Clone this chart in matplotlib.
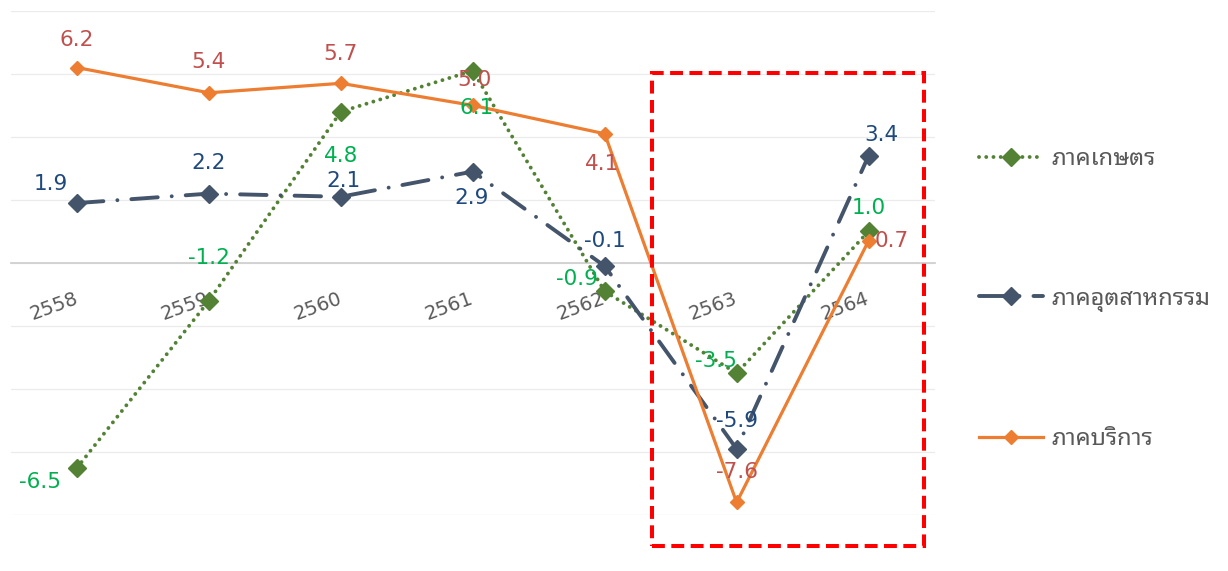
import matplotlib
matplotlib.use('Agg')
import matplotlib.pyplot as plt
from matplotlib.patches import Rectangle

# ข้อมูล (อัตราการขยายตัว %)
years = ['2558', '2559', '2560', '2561', '2562', '2563', '2564']
agri = [-6.5, -1.2, 4.8, 6.1, -0.9, -3.5, 1.0]
industry = [1.9, 2.2, 2.1, 2.9, -0.1, -5.9, 3.4]
services = [6.2, 5.4, 5.7, 5.0, 4.1, -7.6, 0.7]
names = ['ภาคเกษตร', 'ภาคอุตสาหกรรม', 'ภาคบริการ']

# ตำแหน่งป้ายตัวเลข (offset หน่วย points)
agri_off = [(-27, -10), (0, 31), (0, -32), (3, -27), (-20, 9), (-15, 9), (0, 17)]
ind_off = [(-19, 14), (0, 22), (2, 11), (-1, -19), (0, 18), (0, 20), (9, 15)]
serv_off = [(0, 20), (0, 22), (0, 21), (1, 18), (-2, -22), (0, 22), (17, 0)]

thai_font = ['Noto Sans Thai Looped', 'Noto Sans Thai', 'Sarabun', 'DejaVu Sans']

fig = plt.figure(figsize=(12.28, 5.71), dpi=100)
ax = fig.add_axes([0.009, 0.098, 0.752, 0.883])
x = list(range(len(years)))

l1, = ax.plot(x, agri, color='#548235', lw=2.8, linestyle=(0, (0.01, 1.85)),
              dash_capstyle='round', marker='D', ms=9.5, mec='#548235',
              mfc='#548235', zorder=3)
l2, = ax.plot(x, industry, color='#44546A', lw=2.8,
              linestyle=(0, (6.8, 3.6, 0.01, 3.6)), dash_capstyle='round',
              marker='D', ms=9, mec='#44546A', mfc='#44546A', zorder=4)
l3, = ax.plot(x, services, color='#ED7D31', lw=2.3, marker='D', ms=7.5,
              mec='#ED7D31', mfc='#ED7D31', zorder=5)

def put_labels(vals, offs, color):
    for i, v in enumerate(vals):
        ax.annotate(f'{v:.1f}', (i, v), xytext=offs[i], textcoords='offset points',
                    ha='center', va='center', fontsize=15.5, color=color, zorder=6)

put_labels(agri, agri_off, '#00B050')
put_labels(industry, ind_off, '#1F497D')
put_labels(services, serv_off, '#C0504D')

ax.set_xlim(-0.5, 6.5)
ax.set_ylim(-8, 8)
ax.set_yticks(range(-8, 9, 2))
ax.yaxis.grid(True, color='#EBEBEB', lw=0.9)
ax.set_axisbelow(True)
ax.tick_params(axis='y', left=False, labelleft=False)
for s in ['top', 'right', 'left']:
    ax.spines[s].set_visible(False)
ax.spines['bottom'].set_position(('data', 0))
ax.spines['bottom'].set_color('#D0D0D0')
ax.spines['bottom'].set_linewidth(1.3)
ax.spines['bottom'].set_zorder(1)
ax.set_xticks(x)
ax.set_xticklabels(years, rotation=20, ha='right', va='center',
                   rotation_mode='anchor', color='#595959', fontsize=14)
ax.tick_params(axis='x', length=0, pad=25)

# กรอบเน้นช่วงปี 2563-2564
rect = Rectangle((4.36, -8.98), 2.06, 15.01, fill=False, edgecolor='#FF0000',
                 lw=2.9, linestyle=(0, (3.2, 1.6)), clip_on=False, zorder=7)
ax.add_patch(rect)

leg = fig.legend([l1, l2, l3], names, loc='center left',
                 bbox_to_anchor=(0.788, 0.476), frameon=False, borderpad=0,
                 handlelength=2.7, handletextpad=0.35, labelspacing=4.9,
                 prop={'family': thai_font, 'size': 17})
for t in leg.get_texts():
    t.set_color('#595959')

plt.savefig('out.png', dpi=100)
plt.close()
